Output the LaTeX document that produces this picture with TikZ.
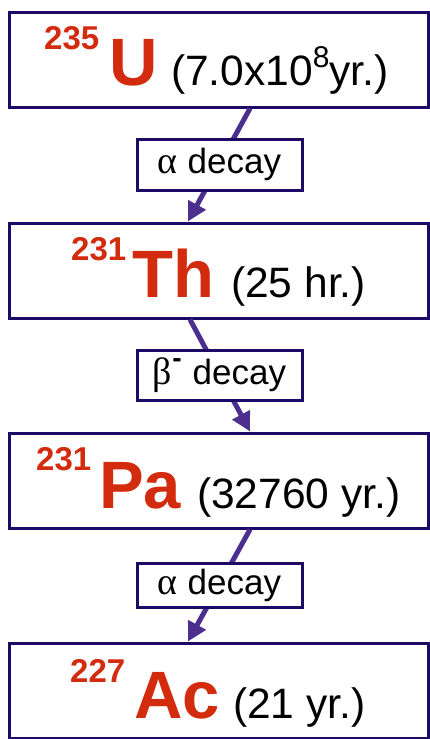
\documentclass[tikz,border=0pt]{standalone}
\usepackage{fontspec}
\setmainfont{Liberation Sans}
\newfontfamily\grkfont{Liberation Serif}
\usetikzlibrary{arrows.meta}
\definecolor{boxnavy}{HTML}{1D0A66}
\definecolor{arrpurple}{HTML}{4B2E8E}
\definecolor{isored}{HTML}{D32B0E}
\newcommand{\fsz}[1]{\fontsize{#1}{#1}\selectfont}
\begin{document}
\begin{tikzpicture}[x=1pt,y=-1pt,
  nucbox/.style={draw=boxnavy,line width=3pt,fill=white,inner sep=0pt,minimum width=419pt,minimum height=95pt},
  decaybox/.style={draw=boxnavy,line width=3pt,fill=white,inner sep=0pt,minimum width=165pt,text=black,font=\fsz{35}},
  massnum/.style={anchor=base west,inner sep=0pt,text=isored,font=\bfseries\fsz{33}},
  elem/.style={anchor=base west,inner sep=0pt,text=isored,font=\bfseries\fsz{67}},
  halflife/.style={anchor=base west,inner sep=0pt,text=black,font=\fsz{42.5}},
  decayarrow/.style={draw=arrpurple,line width=5pt,-{Triangle[length=19pt,width=19pt]}}
]
\useasboundingbox (0,0) rectangle (430,739);

% nuclide boxes
\node[nucbox] (b1) at (218.5,59.5) {};
\node[nucbox] (b2) at (218.5,270.5) {};
\node[nucbox] (b3) at (218.5,480.5) {};
\node[nucbox] (b4) at (218.5,690.5) {};

% texts
\node[massnum] (m1) at (44,49) {235};
\node[elem] (e1) at (109,85) {U};
\node[halflife] (h1) at (171,85) {(7.0x10\raisebox{18pt}{\fsz{30}8}yr.)};

\node[massnum] (m2) at (71,260) {231};
\node[elem] (e2) at (132,297) {Th};
\node[halflife] (h2) at (231,297) {(25 hr.)};

\node[massnum] (m3) at (36,470) {231};
\node[elem] (e3) at (99,508) {Pa};
\node[halflife] (h3) at (197,508) {(32760 yr.)};

\node[massnum] (m4) at (70,682) {227};
\node[elem] (e4) at (134,718) {Ac};
\node[halflife] (h4) at (233,718) {(21 yr.)};

% connectors
\path (b1.south) ++(31.5,0) coordinate (a1);
\path (b2.north) ++(-30.5,0) coordinate (t1);
\path (b2.south) ++(-28.5,0) coordinate (a2);
\path (b3.north) ++(31.5,0) coordinate (t2);
\path (b3.south) ++(31.5,0) coordinate (a3);
\path (b4.north) ++(-30.5,0) coordinate (t3);
\draw[decayarrow] (a1) -- (t1);
\draw[decayarrow] (a2) -- (t2);
\draw[decayarrow] (a3) -- (t3);

% decay labels
\node[decaybox,minimum height=51pt] (d1) at (219.5,164.5) {{\grkfont\fsz{38}α} decay};
\node[decaybox,minimum height=50pt] (d2) at (219.5,375) {{\grkfont\fsz{38}β}\raisebox{17pt}{\bfseries\fsz{28}-}\hspace{11pt}decay};
\node[decaybox,minimum height=44pt] (d3) at (219.5,585.5) {{\grkfont\fsz{38}α} decay};
\end{tikzpicture}
\end{document}
